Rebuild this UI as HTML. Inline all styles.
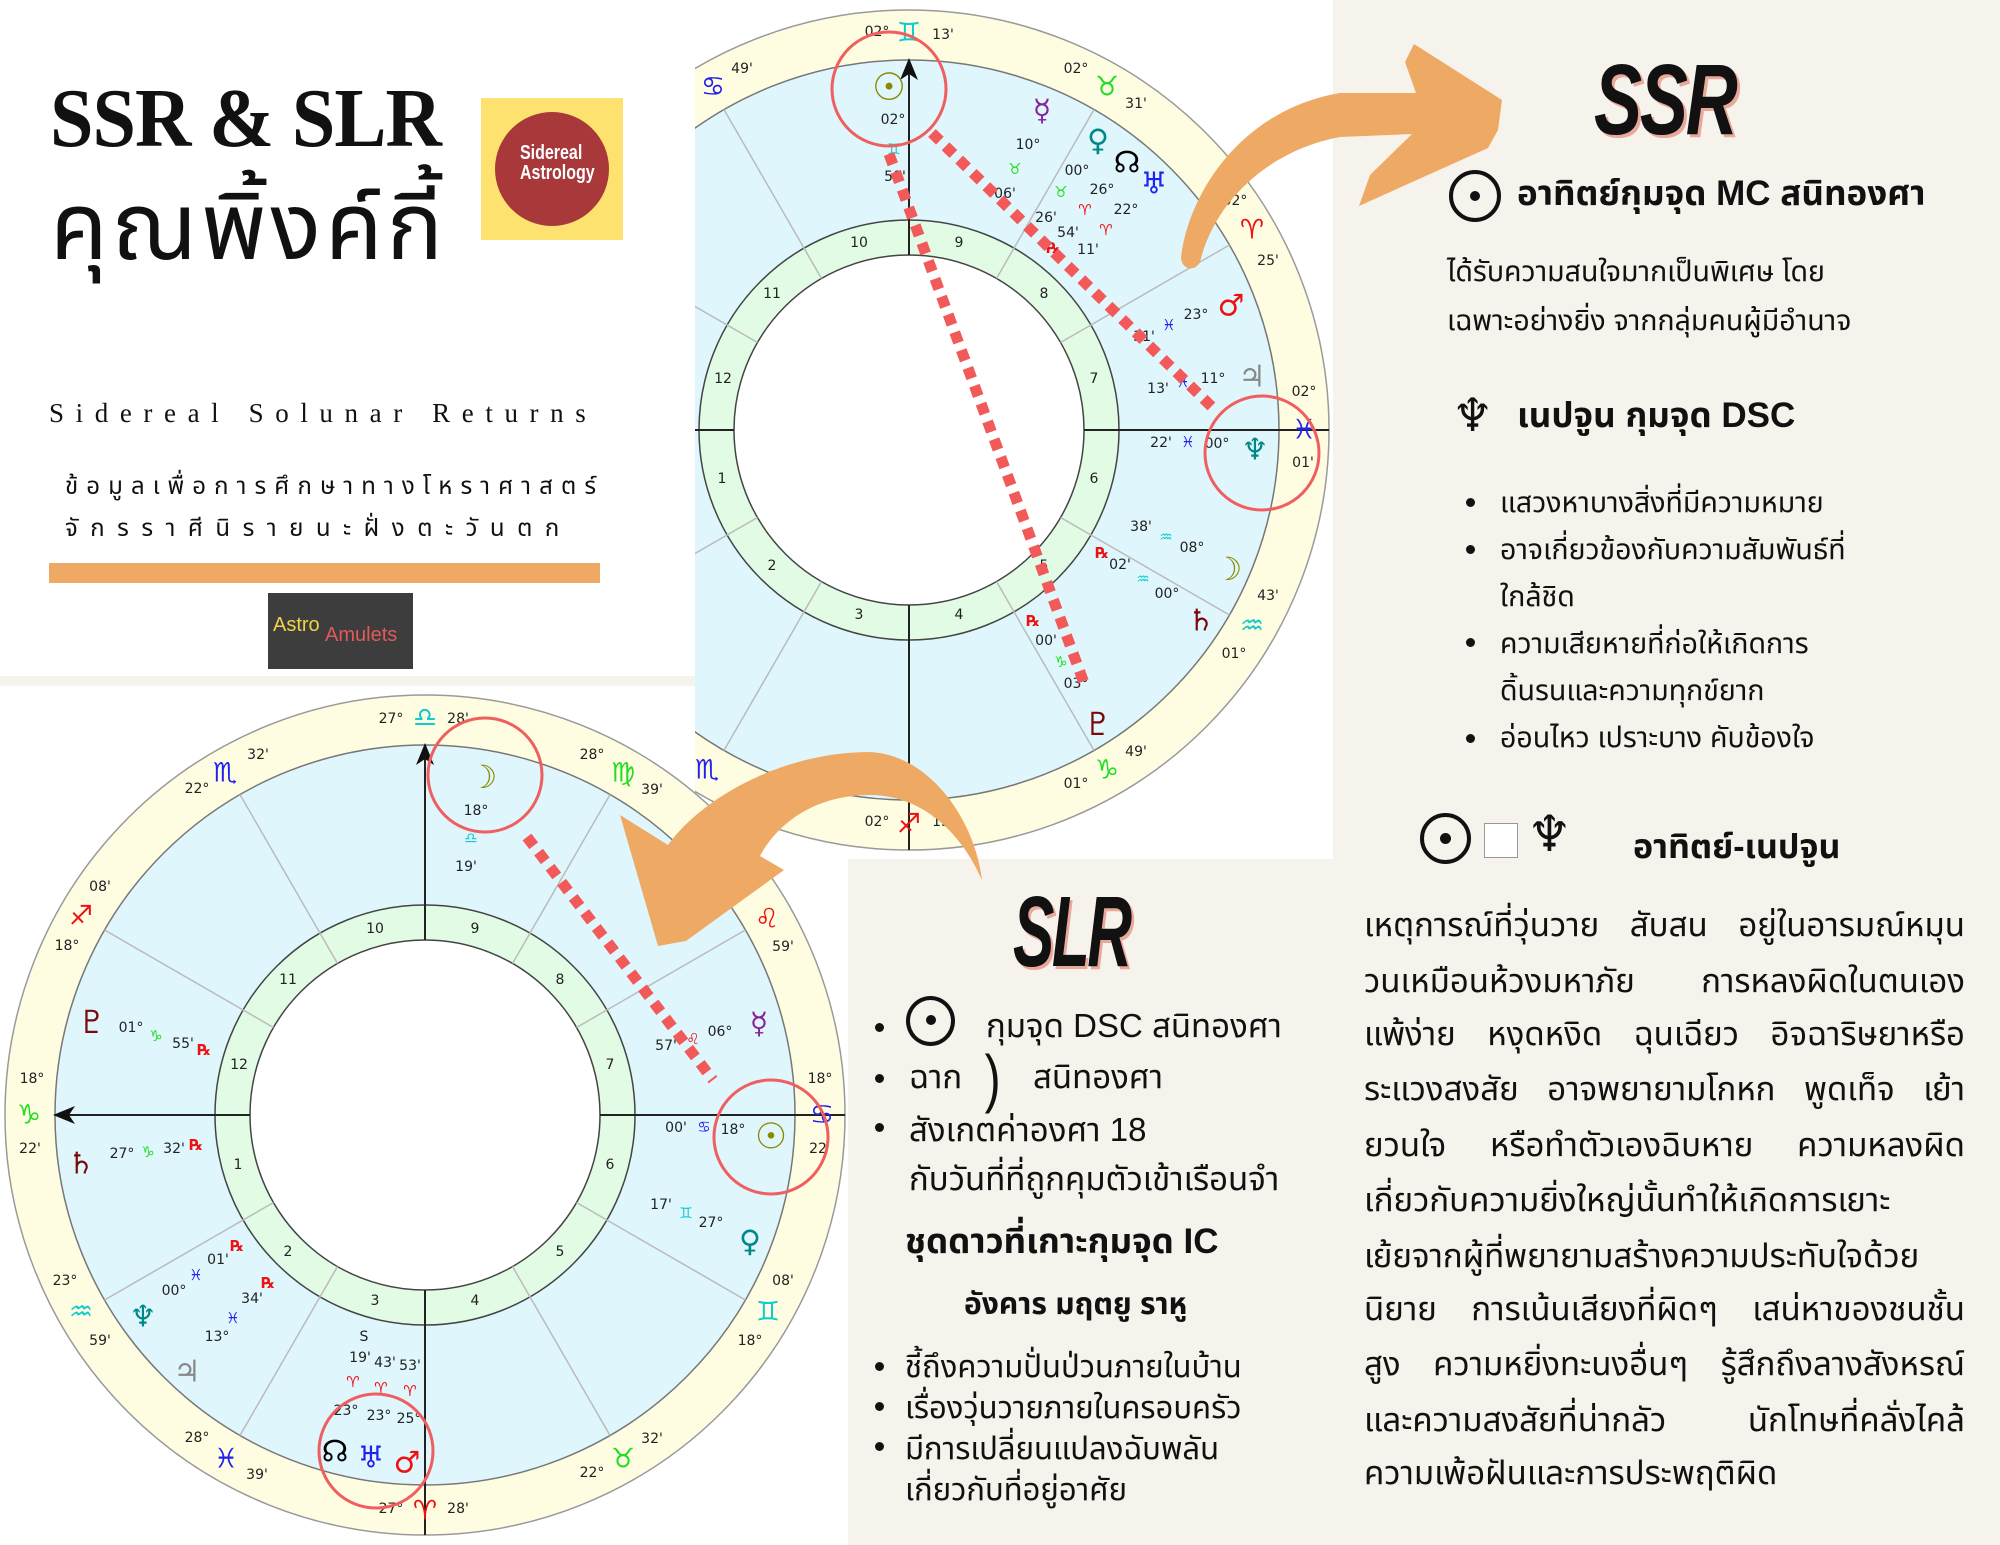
<!DOCTYPE html>
<html><head><meta charset="utf-8">
<style>
html,body{margin:0;padding:0;}
body{width:2000px;height:1545px;position:relative;overflow:hidden;background:#fff;font-family:"Liberation Sans","Noto Sans Thai","Loma","Garuda",sans-serif;color:#111;}
.a{position:absolute;white-space:nowrap;}
.th{font-family:"Liberation Sans","Noto Sans Thai","Loma",sans-serif;}
.sym{font-family:"DejaVu Sans",sans-serif;}
.dot{position:absolute;width:9px;height:9px;border-radius:50%;background:#111;}
.jl{position:absolute;left:1364px;width:601px;font-size:33px;line-height:40px;text-align:justify;text-align-last:justify;white-space:nowrap;}
.jl.n{text-align-last:left;}
</style></head><body>
<svg width="2000" height="1545" style="position:absolute;left:0;top:0" font-family="DejaVu Sans, sans-serif">
<defs><clipPath id="ct"><rect x="695" y="0" width="1305" height="1545"/></clipPath></defs>
<rect x="1333" y="0" width="667" height="1545" fill="#f6f3ed"/>
<rect x="848" y="859" width="1152" height="686" fill="#f6f3ed"/>
<rect x="0" y="676" width="695" height="10" fill="#f6f3ed"/>

<!-- TOP CHART -->
<g clip-path="url(#ct)">
<g transform="translate(909,430)">
<circle r="420" fill="#fffde1" stroke="#9a9a9a" stroke-width="1.5"/>
<circle r="370" fill="#dff6fd" stroke="#777" stroke-width="1.5"/>
<circle r="210" fill="#e2fbe5" stroke="#444" stroke-width="1.5"/>
<circle r="175" fill="#fff" stroke="#444" stroke-width="1.5"/>
<g stroke="#bbb" stroke-width="1.5">
<line x1="175" x2="370" transform="rotate(-30)"/><line x1="175" x2="370" transform="rotate(-60)"/>
<line x1="175" x2="370" transform="rotate(-120)"/><line x1="175" x2="370" transform="rotate(-150)"/>
<line x1="175" x2="370" transform="rotate(30)"/><line x1="175" x2="370" transform="rotate(60)"/>
<line x1="175" x2="370" transform="rotate(120)"/><line x1="175" x2="370" transform="rotate(150)"/>
</g>
<g stroke="#222" stroke-width="2">
<line x1="175" x2="420"/><line x1="-175" x2="-420"/><line y1="-175" y2="-370"/><line y1="175" y2="420"/>
</g>
<polygon points="0,-372 -9,-350 0,-356 9,-350" fill="#111"/>
</g>
<g font-size="14" fill="#222" text-anchor="middle">
<text x="859" y="247">10</text><text x="959" y="247">9</text><text x="1044" y="298">8</text><text x="1094" y="383">7</text>
<text x="1094" y="483">6</text><text x="1044" y="570">5</text><text x="959" y="619">4</text><text x="859" y="619">3</text>
<text x="772" y="570">2</text><text x="722" y="483">1</text><text x="723" y="383">12</text><text x="772" y="298">11</text>
<text x="877" y="36">02°</text><text x="943" y="39">13'</text><text x="742" y="73">49'</text>
<text x="1076" y="73">02°</text><text x="1136" y="108">31'</text><text x="1268" y="265">25'</text><text x="1235" y="205">02°</text>
<text x="1304" y="396">02°</text><text x="1303" y="467">01'</text><text x="1268" y="600">43'</text><text x="1234" y="658">01°</text>
<text x="1136" y="756">49'</text><text x="1076" y="788">01°</text><text x="877" y="826">02°</text><text x="943" y="826">13'</text>
<text x="893" y="124">02°</text><text x="895" y="181">58'</text>
<text x="1028" y="149">10°</text><text x="1005" y="198">06'</text>
<text x="1077" y="175">00°</text><text x="1046" y="222">26'</text>
<text x="1102" y="194">26°</text><text x="1068" y="237">54'</text>
<text x="1126" y="214">22°</text><text x="1088" y="254">11'</text>
<text x="1196" y="319">23°</text><text x="1144" y="341">31'</text>
<text x="1213" y="383">11°</text><text x="1158" y="393">13'</text>
<text x="1217" y="448">00°</text><text x="1161" y="447">22'</text>
<text x="1192" y="552">08°</text><text x="1141" y="531">38'</text>
<text x="1167" y="598">00°</text><text x="1120" y="569">02'</text>
<text x="1076" y="688">03°</text><text x="1046" y="645">00'</text>
</g>
<g text-anchor="middle" dominant-baseline="central" font-weight="bold">
<text x="909" y="33" font-size="27" fill="#1cc">♊</text>
<text x="713" y="87" font-size="27" fill="#22e">♋</text>
<text x="1107" y="87" font-size="27" fill="#2d2">♉</text>
<text x="1252" y="230" font-size="27" fill="#e11">♈</text>
<text x="1304" y="430" font-size="27" fill="#22e">♓</text>
<text x="1252" y="626" font-size="27" fill="#1cc">♒</text>
<text x="1107" y="770" font-size="27" fill="#2d2">♑</text>
<text x="909" y="824" font-size="27" fill="#e11">♐</text>
<text x="707" y="770" font-size="27" fill="#22e">♏</text>
<text x="889" y="87" font-size="38" fill="#8a8a00">☉</text>
<text x="894" y="149" font-size="15" fill="#1cc">♊</text>
<text x="1042" y="111" font-size="30" fill="#882299">☿</text>
<text x="1015" y="169" font-size="15" fill="#2d2">♉</text>
<text x="1098" y="141" font-size="30" fill="#088">♀</text>
<text x="1061" y="192" font-size="15" fill="#2d2">♉</text>
<text x="1127" y="163" font-size="30" fill="#000">☊</text>
<text x="1085" y="210" font-size="15" fill="#e11">♈</text>
<text x="1053" y="248" font-size="15" fill="#e11">℞</text>
<text x="1154" y="184" font-size="30" fill="#22e">♅</text>
<text x="1106" y="230" font-size="15" fill="#e11">♈</text>
<text x="1231" y="306" font-size="30" fill="#e11">♂</text>
<text x="1169" y="325" font-size="15" fill="#22e">♓</text>
<text x="1252" y="377" font-size="30" fill="#888">♃</text>
<text x="1183" y="382" font-size="15" fill="#22e">♓</text>
<text x="1255" y="450" font-size="30" fill="#088">♆</text>
<text x="1188" y="442" font-size="15" fill="#22e">♓</text>
<text x="1228" y="569" font-size="32" fill="#8a8a00">☽</text>
<text x="1166" y="537" font-size="15" fill="#1cc">♒</text>
<text x="1201" y="621" font-size="30" fill="#7a0a0a">♄</text>
<text x="1143" y="579" font-size="15" fill="#1cc">♒</text>
<text x="1102" y="553" font-size="15" fill="#e11">℞</text>
<text x="1098" y="724" font-size="32" fill="#7a0a0a">♇</text>
<text x="1061" y="662" font-size="15" fill="#2d2">♑</text>
<text x="1033" y="621" font-size="15" fill="#e11">℞</text>
</g>
<g stroke="#f25a5a" stroke-width="11" stroke-dasharray="11 8" fill="none">
<line x1="932" y1="133" x2="1214" y2="409"/>
<line x1="889" y1="154" x2="1084" y2="683"/>
</g>
<g stroke="#ef5f5f" stroke-width="3" fill="none">
<circle cx="889" cy="89" r="57"/><circle cx="1262" cy="453" r="57"/>
</g>
</g>

<!-- BOTTOM CHART -->
<g transform="translate(425,1115)">
<circle r="420" fill="#fffde1" stroke="#9a9a9a" stroke-width="1.5"/>
<circle r="370" fill="#dff6fd" stroke="#777" stroke-width="1.5"/>
<circle r="210" fill="#e2fbe5" stroke="#444" stroke-width="1.5"/>
<circle r="175" fill="#fff" stroke="#444" stroke-width="1.5"/>
<g stroke="#bbb" stroke-width="1.5">
<line x1="175" x2="370" transform="rotate(-30)"/><line x1="175" x2="370" transform="rotate(-60)"/>
<line x1="175" x2="370" transform="rotate(-120)"/><line x1="175" x2="370" transform="rotate(-150)"/>
<line x1="175" x2="370" transform="rotate(30)"/><line x1="175" x2="370" transform="rotate(60)"/>
<line x1="175" x2="370" transform="rotate(120)"/><line x1="175" x2="370" transform="rotate(150)"/>
</g>
<g stroke="#222" stroke-width="2">
<line x1="175" x2="420"/><line x1="-175" x2="-370"/><line y1="-175" y2="-370"/><line y1="175" y2="420"/>
</g>
<polygon points="0,-372 -9,-350 0,-356 9,-350" fill="#111"/>
<polygon points="-372,0 -350,-9 -356,0 -350,9" fill="#111"/>
</g>
<g font-size="14" fill="#222" text-anchor="middle">
<text x="375" y="933">10</text><text x="475" y="933">9</text><text x="560" y="984">8</text><text x="610" y="1069">7</text>
<text x="610" y="1169">6</text><text x="560" y="1256">5</text><text x="475" y="1305">4</text><text x="375" y="1305">3</text>
<text x="288" y="1256">2</text><text x="238" y="1169">1</text><text x="239" y="1069">12</text><text x="288" y="984">11</text>
<text x="391" y="723">27°</text><text x="458" y="723">28'</text><text x="258" y="759">32'</text><text x="197" y="793">22°</text>
<text x="592" y="759">28°</text><text x="652" y="794">39'</text><text x="100" y="891">08'</text><text x="67" y="950">18°</text>
<text x="783" y="951">59'</text><text x="32" y="1083">18°</text><text x="30" y="1153">22'</text><text x="820" y="1083">18°</text><text x="818" y="1153">22</text>
<text x="65" y="1285">23°</text><text x="100" y="1345">59'</text><text x="783" y="1285">08'</text><text x="750" y="1345">18°</text>
<text x="197" y="1442">28°</text><text x="257" y="1479">39'</text><text x="652" y="1443">32'</text><text x="592" y="1477">22°</text>
<text x="391" y="1513">27°</text><text x="458" y="1513">28'</text>
<text x="476" y="815">18°</text><text x="466" y="871">19'</text>
<text x="131" y="1032">01°</text><text x="183" y="1048">55'</text>
<text x="122" y="1158">27°</text><text x="174" y="1153">32'</text>
<text x="720" y="1036">06°</text><text x="666" y="1050">57'</text>
<text x="733" y="1134">18°</text><text x="676" y="1132">00'</text>
<text x="711" y="1227">27°</text><text x="661" y="1209">17'</text>
<text x="174" y="1295">00°</text><text x="218" y="1264">01'</text>
<text x="217" y="1341">13°</text><text x="252" y="1303">34'</text>
<text x="364" y="1341">S</text>
<text x="360" y="1362">19'</text><text x="385" y="1367">43'</text><text x="410" y="1370">53'</text>
<text x="346" y="1415">23°</text><text x="379" y="1420">23°</text><text x="409" y="1423">25°</text>
</g>
<g text-anchor="middle" dominant-baseline="central" font-weight="bold">
<text x="425" y="718" font-size="27" fill="#1cc">♎</text>
<text x="225" y="773" font-size="27" fill="#22e">♏</text>
<text x="623" y="773" font-size="27" fill="#2d2">♍</text>
<text x="81" y="916" font-size="27" fill="#e11">♐</text>
<text x="767" y="919" font-size="27" fill="#e11">♌</text>
<text x="29" y="1115" font-size="27" fill="#2d2">♑</text>
<text x="822" y="1115" font-size="27" fill="#22e">♋</text>
<text x="81" y="1312" font-size="27" fill="#1cc">♒</text>
<text x="768" y="1312" font-size="27" fill="#1cc">♊</text>
<text x="226" y="1459" font-size="27" fill="#22e">♓</text>
<text x="623" y="1459" font-size="27" fill="#2d2">♉</text>
<text x="425" y="1511" font-size="27" fill="#e11">♈</text>
<text x="483" y="777" font-size="32" fill="#8a8a00">☽</text>
<text x="471" y="838" font-size="15" fill="#1cc">♎</text>
<text x="92" y="1022" font-size="32" fill="#7a0a0a">♇</text>
<text x="156" y="1036" font-size="15" fill="#2d2">♑</text>
<text x="204" y="1050" font-size="15" fill="#e11">℞</text>
<text x="81" y="1164" font-size="30" fill="#7a0a0a">♄</text>
<text x="148" y="1152" font-size="15" fill="#2d2">♑</text>
<text x="196" y="1145" font-size="15" fill="#e11">℞</text>
<text x="759" y="1024" font-size="30" fill="#882299">☿</text>
<text x="693" y="1039" font-size="15" fill="#e11">♌</text>
<text x="771" y="1137" font-size="36" fill="#8a8a00">☉</text>
<text x="704" y="1127" font-size="15" fill="#22e">♋</text>
<text x="750" y="1242" font-size="30" fill="#088">♀</text>
<text x="686" y="1213" font-size="15" fill="#1cc">♊</text>
<text x="143" y="1317" font-size="30" fill="#088">♆</text>
<text x="196" y="1275" font-size="15" fill="#22e">♓</text>
<text x="237" y="1246" font-size="15" fill="#e11">℞</text>
<text x="187" y="1372" font-size="30" fill="#888">♃</text>
<text x="233" y="1318" font-size="15" fill="#22e">♓</text>
<text x="268" y="1283" font-size="15" fill="#e11">℞</text>
<text x="353" y="1382" font-size="15" fill="#e11">♈</text>
<text x="381" y="1388" font-size="15" fill="#e11">♈</text>
<text x="410" y="1391" font-size="15" fill="#e11">♈</text>
<text x="335" y="1452" font-size="30" fill="#000">☊</text>
<text x="371" y="1458" font-size="30" fill="#22e">♅</text>
<text x="407" y="1463" font-size="30" fill="#e11">♂</text>
</g>
<line x1="527" y1="837" x2="713" y2="1080" stroke="#f25a5a" stroke-width="11" stroke-dasharray="11 8"/>
<g stroke="#ef5f5f" stroke-width="3" fill="none">
<circle cx="485" cy="775" r="57"/><circle cx="771" cy="1137" r="57"/><circle cx="376" cy="1451" r="57"/>
</g>

<!-- arrows -->
<path d="M1181,258 C1188,195 1240,110 1340,93 L1416,93 L1405,62 L1414,44 L1502,100 L1498,130 L1488,148 L1359,206 L1370,175 L1412,134 L1340,137 C1270,150 1215,200 1200,262 C1195,272 1182,270 1181,258 Z" fill="#eea964"/>
<path d="M620,815 L668,845 C700,800 780,752 870,752 C930,755 975,820 982,880 C960,830 920,795 870,795 C810,795 775,828 760,856 L784,870 L686,941 L658,946 Z" fill="#eea964"/>
</svg>

<!-- LEFT PANEL -->
<div class="a" style="left:50px;top:77px;font-family:'Liberation Serif',serif;font-weight:bold;font-size:84px;line-height:84px;letter-spacing:-1px;transform:scaleX(0.93);transform-origin:left;">SSR &amp; SLR</div>
<div class="a th" style="left:50px;top:164px;font-size:94px;line-height:126px;letter-spacing:4px;">คุณพิ้งค์กี้</div>
<div class="a" style="left:481px;top:98px;width:142px;height:142px;background:#fee270;"></div>
<div class="a" style="left:495px;top:112px;width:114px;height:114px;border-radius:50%;background:#a9383a;"></div>
<div class="a" style="left:520px;top:143px;color:#fff;font-weight:bold;font-size:20px;line-height:20px;transform:scaleX(0.8);transform-origin:left;">Sidereal<br>Astrology</div>
<div class="a" style="left:49px;top:396px;font-family:'Liberation Serif',serif;font-size:27px;line-height:34px;letter-spacing:11.6px;">Sidereal Solunar Returns</div>
<div class="a th" style="left:65px;top:470px;font-size:24px;line-height:34px;letter-spacing:8.1px;">ข้อมูลเพื่อการศึกษาทางโหราศาสตร์</div>
<div class="a th" style="left:65px;top:512px;font-size:24px;line-height:34px;letter-spacing:12.5px;">จักรราศีนิรายนะฝั่งตะวันตก</div>
<div class="a" style="left:49px;top:563px;width:551px;height:20px;background:#eea964;"></div>
<div class="a" style="left:268px;top:593px;width:145px;height:76px;background:#3d3d3d;"></div>
<div class="a" style="left:273px;top:614px;font-size:20px;color:#f2d24a;">Astro</div>
<div class="a" style="left:325px;top:624px;font-size:20px;color:#e05a5a;">Amulets</div>

<!-- SSR -->
<div class="a" style="left:1594px;top:50px;font-weight:bold;font-style:italic;font-size:100px;line-height:100px;transform:scaleX(0.72);transform-origin:left;text-shadow:4px 3px 0 #eaa89a;letter-spacing:-3px;">SSR</div>
<div class="a" style="left:1449px;top:170px;width:44px;height:44px;border:4px solid #111;border-radius:50%;"></div>
<div class="dot" style="left:1470px;top:191px;width:10px;height:10px;"></div>
<div class="a th" style="left:1517px;top:172px;font-size:35px;line-height:44px;font-weight:bold;">อาทิตย์กุมจุด MC สนิทองศา</div>
<div class="a th" style="left:1447px;top:254px;font-size:28.5px;line-height:36px;">ได้รับความสนใจมากเป็นพิเศษ โดย</div>
<div class="a th" style="left:1447px;top:303px;font-size:28.5px;line-height:36px;">เฉพาะอย่างยิ่ง จากกลุ่มคนผู้มีอำนาจ</div>
<div class="a sym" style="left:1452px;top:390px;font-size:46px;line-height:50px;">♆</div>
<div class="a th" style="left:1517px;top:394px;font-size:35px;line-height:44px;font-weight:bold;">เนปจูน กุมจุด DSC</div>
<div class="dot" style="left:1466px;top:498px;"></div>
<div class="dot" style="left:1466px;top:545px;"></div>
<div class="dot" style="left:1466px;top:638px;"></div>
<div class="dot" style="left:1466px;top:734px;"></div>
<div class="a th" style="left:1500px;top:480px;font-size:28.5px;line-height:47px;">แสวงหาบางสิ่งที่มีความหมาย<br>อาจเกี่ยวข้องกับความสัมพันธ์ที่<br>ใกล้ชิด<br>ความเสียหายที่ก่อให้เกิดการ<br>ดิ้นรนและความทุกข์ยาก<br>อ่อนไหว เปราะบาง คับข้องใจ</div>
<div class="a" style="left:1420px;top:813px;width:43px;height:43px;border:4px solid #111;border-radius:50%;"></div>
<div class="dot" style="left:1440px;top:833px;width:11px;height:11px;"></div>
<div class="a" style="left:1484px;top:823px;width:32px;height:33px;border:1px solid #999;background:#fff;"></div>
<div class="a sym" style="left:1527px;top:806px;font-size:50px;line-height:56px;">♆</div>
<div class="a th" style="left:1633px;top:825px;font-size:34px;line-height:44px;font-weight:bold;">อาทิตย์-เนปจูน</div>

<div class="jl th" style="top:905px;">เหตุการณ์ที่วุ่นวาย สับสน อยู่ในอารมณ์หมุน</div>
<div class="jl th" style="top:961px;">วนเหมือนห้วงมหาภัย&nbsp;&nbsp; การหลงผิดในตนเอง</div>
<div class="jl th" style="top:1014px;">แพ้ง่าย หงุดหงิด ฉุนเฉียว อิจฉาริษยาหรือ</div>
<div class="jl th" style="top:1069px;">ระแวงสงสัย อาจพยายามโกหก พูดเท็จ เย้า</div>
<div class="jl th" style="top:1125px;">ยวนใจ หรือทำตัวเองฉิบหาย ความหลงผิด</div>
<div class="jl n th" style="top:1180px;">เกี่ยวกับความยิ่งใหญ่นั้นทำให้เกิดการเยาะ</div>
<div class="jl n th" style="top:1236px;">เย้ยจากผู้ที่พยายามสร้างความประทับใจด้วย</div>
<div class="jl th" style="top:1289px;">นิยาย การเน้นเสียงที่ผิดๆ เสน่หาของชนชั้น</div>
<div class="jl th" style="top:1344px;">สูง ความหยิ่งทะนงอื่นๆ รู้สึกถึงลางสังหรณ์</div>
<div class="jl th" style="top:1400px;">และความสงสัยที่น่ากลัว&nbsp;&nbsp; นักโทษที่คลั่งไคล้</div>
<div class="jl n th" style="top:1453px;">ความเพ้อฝันและการประพฤติผิด</div>

<!-- SLR -->
<div class="a" style="left:1013px;top:882px;font-weight:bold;font-style:italic;font-size:100px;line-height:100px;transform:scaleX(0.62);transform-origin:left;text-shadow:4px 3px 0 #eaa89a;letter-spacing:-4px;">SLR</div>
<div class="dot" style="left:875px;top:1023px;"></div>
<div class="dot" style="left:875px;top:1074px;"></div>
<div class="dot" style="left:875px;top:1123px;"></div>
<div class="a" style="left:906px;top:996px;width:41px;height:42px;border:4px solid #111;border-radius:50%;"></div>
<div class="dot" style="left:926px;top:1015px;width:10px;height:10px;"></div>
<div class="a th" style="left:986px;top:1006px;font-size:33px;line-height:40px;">กุมจุด DSC สนิทองศา</div>
<div class="a th" style="left:909px;top:1057px;font-size:33px;line-height:40px;">ฉาก</div>
<div class="a" style="left:982px;top:1046px;font-family:'Liberation Sans',sans-serif;font-size:64px;line-height:64px;transform:scaleX(0.75);">)</div>
<div class="a th" style="left:1033px;top:1057px;font-size:33px;line-height:40px;">สนิทองศา</div>
<div class="a th" style="left:909px;top:1105px;font-size:33px;line-height:49px;">สังเกตค่าองศา 18<br>กับวันที่ที่ถูกคุมตัวเข้าเรือนจำ</div>
<div class="a th" style="left:905px;top:1220px;font-size:35px;line-height:44px;font-weight:bold;">ชุดดาวที่เกาะกุมจุด IC</div>
<div class="a th" style="left:964px;top:1285px;font-size:30px;line-height:40px;font-weight:bold;">อังคาร มฤตยู ราหู</div>
<div class="dot" style="left:875px;top:1362px;"></div>
<div class="dot" style="left:875px;top:1402px;"></div>
<div class="dot" style="left:875px;top:1442px;"></div>
<div class="a th" style="left:905px;top:1346px;font-size:31px;line-height:41px;">ชี้ถึงความปั่นป่วนภายในบ้าน<br>เรื่องวุ่นวายภายในครอบครัว<br>มีการเปลี่ยนแปลงฉับพลัน<br>เกี่ยวกับที่อยู่อาศัย</div>
</body></html>
